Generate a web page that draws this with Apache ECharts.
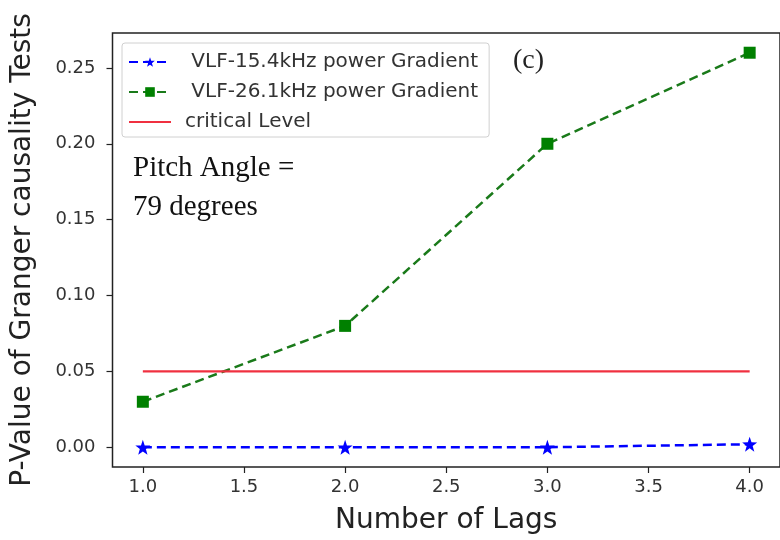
<!DOCTYPE html>
<html><head><meta charset="utf-8">
<script src="https://cdn.jsdelivr.net/npm/echarts@6/dist/echarts.min.js"></script>
<style>html,body{margin:0;padding:0;background:#fff}#c{width:780px;height:540px}</style>
</head><body><div id="c"></div>
<script>
const lags = [1, 2, 3, 4];
const vlf154 = [0.0, 0.0, 0.0, 0.002];
const vlf261 = [0.03, 0.08, 0.20, 0.26];
const criticalLevel = 0.05;
const xTicks = [1.0, 1.5, 2.0, 2.5, 3.0, 3.5, 4.0];
const yTicks = [0.00, 0.05, 0.10, 0.15, 0.20, 0.25];
const seriesNames = ['VLF-15.4kHz power Gradient', 'VLF-26.1kHz power Gradient', 'critical Level'];

const starPath = 'path://M0,-10L2.35,-3.24L9.51,-3.09L3.8,1.24L5.88,8.09L0,4L-5.88,8.09L-3.8,1.24L-9.51,-3.09L-2.35,-3.24Z';
const font = 'DejaVu Sans';

const chart = echarts.init(document.getElementById('c'), null, {renderer: 'canvas'});
chart.setOption({
  animation: false,
  backgroundColor: '#fff',
  grid: {left: 112.5, right: -2.5, top: 33, bottom: 70, show: true, borderColor: '#222', borderWidth: 1.5, backgroundColor: 'transparent'},
  xAxis: {
    type: 'value', min: 0.85, max: 4.15,
    name: 'Number of Lags', nameLocation: 'middle', nameGap: 40,
    nameTextStyle: {fontFamily: font, fontSize: 28, color: '#222'},
    axisLine: {show: false, onZero: false},
    axisTick: {show: true, length: 6, customValues: xTicks, lineStyle: {color: '#222', width: 1.2}},
    axisLabel: {customValues: xTicks, fontFamily: font, fontSize: 18, color: '#333', margin: 11, formatter: v => v.toFixed(1)},
    splitLine: {show: false}
  },
  yAxis: {
    type: 'value', min: -0.013, max: 0.273,
    name: 'P-Value of Granger causality Tests', nameLocation: 'middle', nameGap: 76,
    nameTextStyle: {fontFamily: font, fontSize: 28, color: '#222'},
    axisLine: {show: false, onZero: false},
    axisTick: {show: true, length: 6, customValues: yTicks, lineStyle: {color: '#222', width: 1.2}},
    axisLabel: {customValues: yTicks, fontFamily: font, fontSize: 18, color: '#333', margin: 17, formatter: v => v.toFixed(2)},
    splitLine: {show: false}
  },
  legend: {
    orient: 'vertical', left: 122, top: 43,
    padding: [9, 11, 5, 6], itemGap: 10, itemWidth: 42, itemHeight: 12,
    backgroundColor: '#fff', borderColor: '#d0d0d0', borderWidth: 1, borderRadius: 3,
    textStyle: {fontFamily: font, fontSize: 20, color: '#333', lineHeight: 20, padding: [0, 0, 0, 9]},
    formatter: n => n.startsWith('VLF') ? ' ' + n : n,
    data: [
      {name: seriesNames[0]},
      {name: seriesNames[1]},
      {name: seriesNames[2], itemStyle: {color: 'rgba(0,0,0,0)', opacity: 0}}
    ]
  },
  graphic: [
    {type: 'text', left: 513, top: 47, style: {text: '(c)', font: '28px "Liberation Serif"', fill: '#222'}},
    {type: 'text', left: 133, top: 154, style: {text: 'Pitch Angle =', font: '29px "Liberation Serif"', fill: '#111'}},
    {type: 'text', left: 133, top: 193, style: {text: '79 degrees', font: '29px "Liberation Serif"', fill: '#111'}}
  ],
  series: [
    {name: seriesNames[0], type: 'line', data: lags.map((x, i) => [x, vlf154[i]]),
     symbol: starPath, symbolSize: 15,
     lineStyle: {color: '#0000ff', width: 2.5, type: [9, 5]}, itemStyle: {color: '#0000ff'}},
    {name: seriesNames[1], type: 'line', data: lags.map((x, i) => [x, vlf261[i]]),
     symbol: 'rect', symbolSize: 12,
     lineStyle: {color: '#1a7a1a', width: 2.5, type: [9, 5]}, itemStyle: {color: '#008000'}},
    {name: seriesNames[2], type: 'line', data: [[lags[0], criticalLevel], [lags[lags.length - 1], criticalLevel]],
     symbol: 'none', lineStyle: {color: '#f03040', width: 2.2}, itemStyle: {color: '#f03040'}}
  ]
});
</script></body></html>
